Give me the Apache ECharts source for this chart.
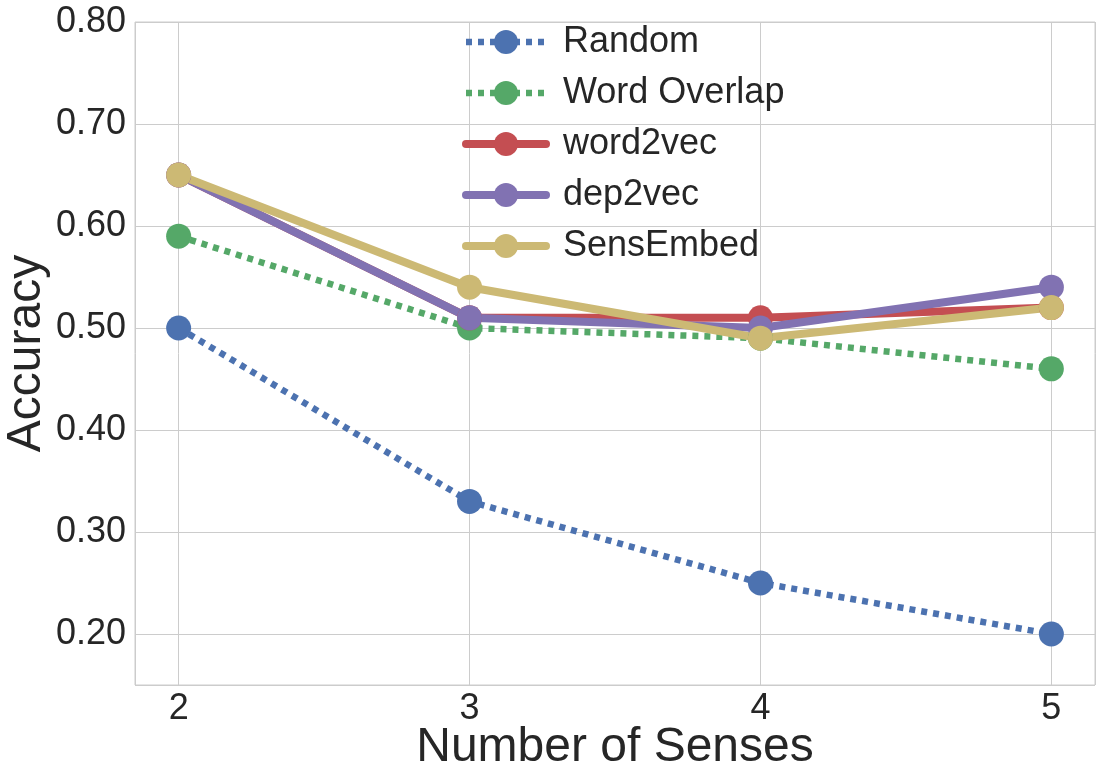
<!DOCTYPE html>
<html>
<head>
<meta charset="utf-8">
<script src="https://cdn.jsdelivr.net/npm/echarts@6/dist/echarts.min.js"></script>
<style>html,body{margin:0;padding:0;background:#fff}#c{width:1102px;height:782px}</style>
</head>
<body>
<div id="c"></div>
<script>
const senses = [2, 3, 4, 5];
const randomVals = [0.50, 0.33, 0.25, 0.20];
const overlapVals = [0.59, 0.50, 0.49, 0.46];
const word2vecVals = [0.65, 0.51, 0.51, 0.52];
const dep2vecVals = [0.65, 0.51, 0.50, 0.54];
const sensEmbedVals = [0.65, 0.54, 0.49, 0.52];
const seriesNames = ['Random', 'Word Overlap', 'word2vec', 'dep2vec', 'SensEmbed'];
const seriesVals = [randomVals, overlapVals, word2vecVals, dep2vecVals, sensEmbedVals];
const colors = ['#4C72B0', '#55A868', '#C44E52', '#8172B2', '#CCB974'];
const dotted = [true, true, false, false, false];

const FONT = 'Liberation Sans, Arial, sans-serif';
const chart = echarts.init(document.getElementById('c'), null, {renderer: 'canvas'});

function lineStyleFor(i) {
  return dotted[i]
    ? {color: colors[i], width: 6.5, type: [6, 6], cap: 'butt'}
    : {color: colors[i], width: 8, type: 'solid', cap: 'round', join: 'round'};
}

const series = seriesNames.map((name, i) => ({
  name: name,
  type: 'line',
  data: senses.map((s, j) => [s, seriesVals[i][j]]),
  symbol: 'circle',
  symbolSize: 25,
  showSymbol: true,
  animation: false,
  itemStyle: {color: colors[i]},
  lineStyle: lineStyleFor(i),
  emphasis: {disabled: true}
}));

chart.setOption({
  backgroundColor: '#ffffff',
  animation: false,
  grid: {left: 135, right: 7, top: 22, bottom: 97, show: true, borderColor: '#cccccc', borderWidth: 1,
         containLabel: false, outerBoundsMode: 'none'},
  legend: {
    orient: 'vertical',
    left: 457,
    top: 19,
    itemWidth: 80,
    itemHeight: 30,
    itemGap: 15,
    data: seriesNames.map((n, i) => ({name: n, lineStyle: lineStyleFor(i)})),
    textStyle: {fontFamily: FONT, fontSize: 36, color: '#262626', lineHeight: 36, padding: [0, 0, 0, 12]}
  },
  xAxis: {
    type: 'value',
    min: 1.85,
    max: 5.15,
    splitNumber: 3,
    name: 'Number of Senses',
    nameLocation: 'middle',
    nameGap: 39,
    nameMoveOverlap: false,
    nameTextStyle: {fontFamily: FONT, fontSize: 48, color: '#262626'},
    axisLine: {show: false},
    axisTick: {show: false},
    axisLabel: {
      fontFamily: FONT, fontSize: 36, color: '#262626', margin: 6,
      showMinLabel: false, showMaxLabel: false,
      formatter: v => (Math.abs(v - Math.round(v)) < 1e-6 ? String(Math.round(v)) : '')
    },
    splitLine: {show: true, lineStyle: {color: '#cccccc', width: 1}}
  },
  yAxis: {
    type: 'value',
    min: 0.15,
    max: 0.80,
    splitNumber: 6,
    name: 'Accuracy',
    nameLocation: 'middle',
    nameGap: 84,
    nameMoveOverlap: false,
    nameTextStyle: {fontFamily: FONT, fontSize: 48, color: '#262626'},
    axisLine: {show: false},
    axisTick: {show: false},
    axisLabel: {
      fontFamily: FONT, fontSize: 36, color: '#262626', margin: 9,
      showMinLabel: false,
      formatter: v => (Math.abs(v * 10 - Math.round(v * 10)) < 1e-6 ? v.toFixed(2) : '')
    },
    splitLine: {show: true, lineStyle: {color: '#cccccc', width: 1}}
  },
  series: series
});
</script>
</body>
</html>
